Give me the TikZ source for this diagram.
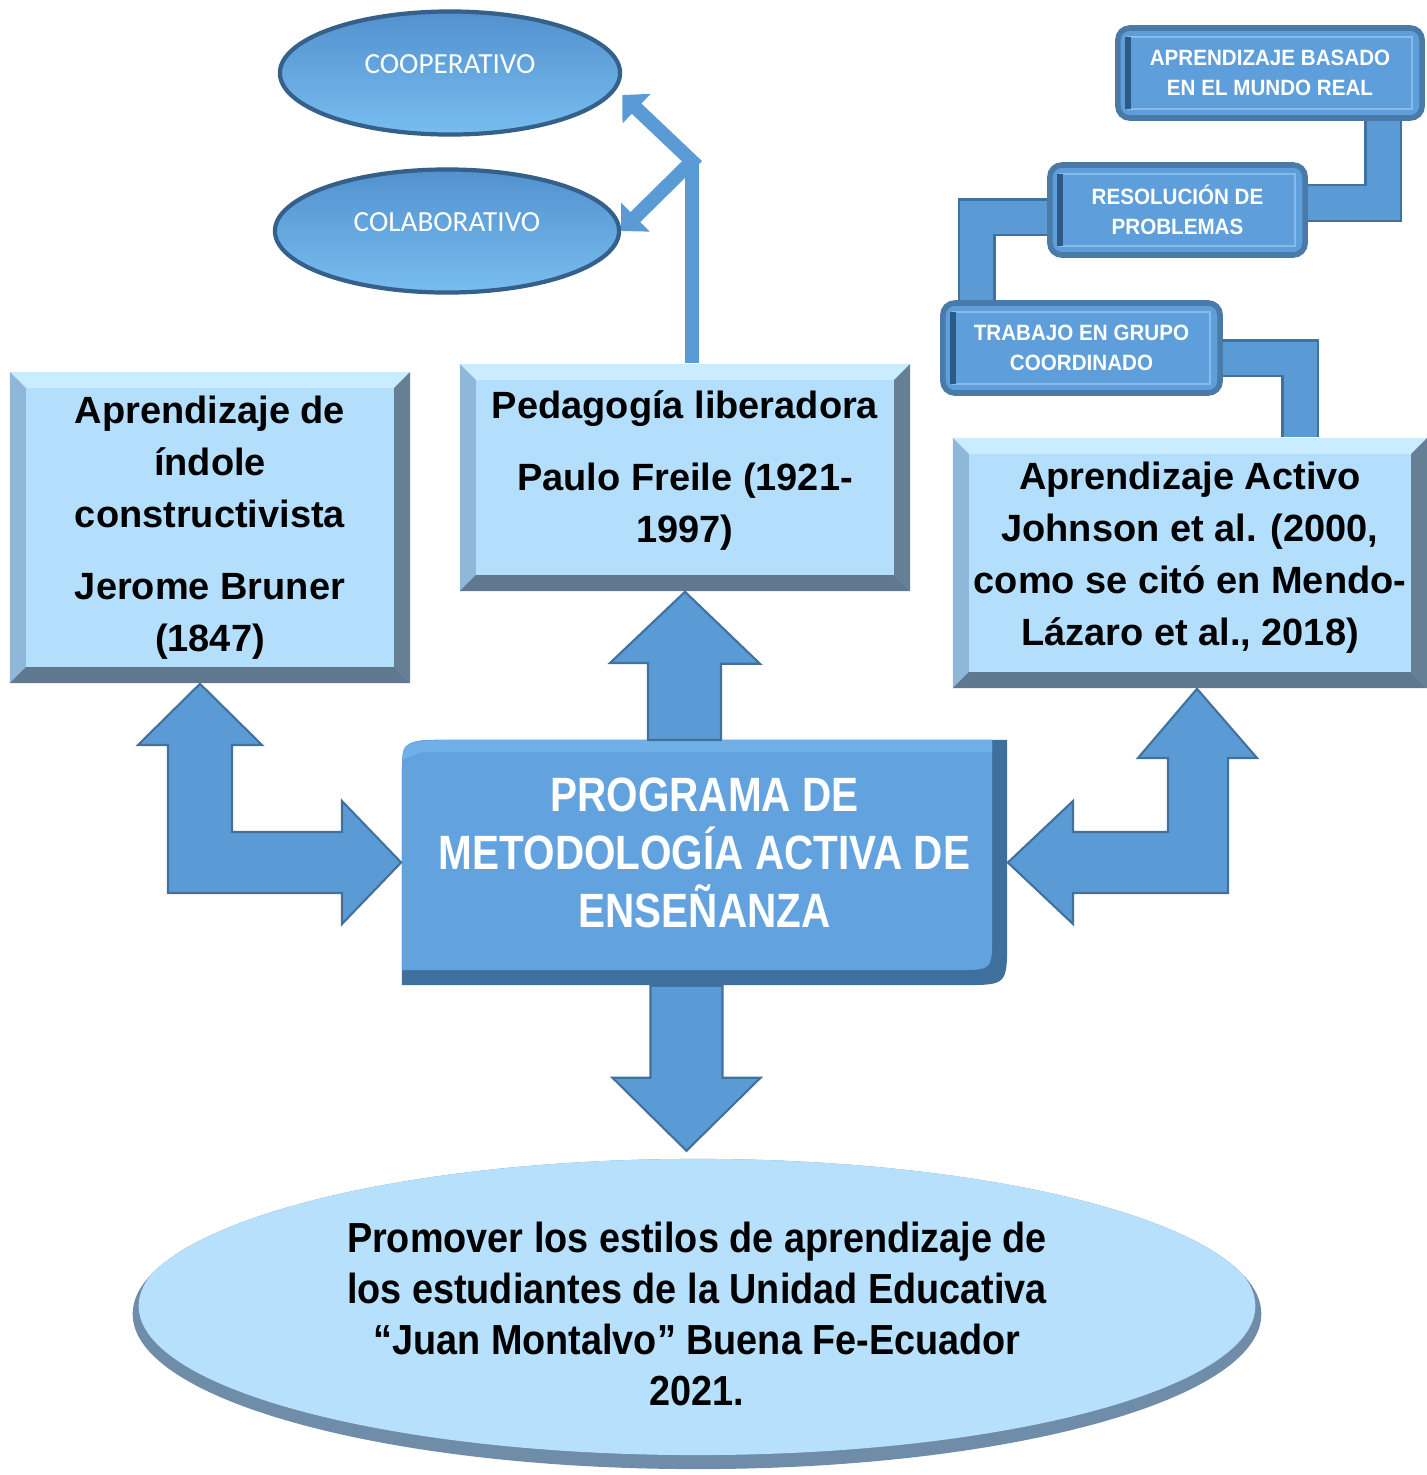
\documentclass[tikz,border=0pt]{standalone}
\usepackage{fontspec}
\setmainfont{Liberation Sans}
\newfontfamily\narrowfont{Liberation Sans}[FakeStretch=0.84]
\newfontfamily\goalfont{Liberation Sans}[FakeStretch=0.9]
\newfontfamily\notefont{Liberation Sans}[FakeStretch=0.93]
\newfontfamily\calibfont{Carlito}
\usetikzlibrary{arrows.meta,shapes.geometric}

\definecolor{boxface}{HTML}{B4DFFC}
\definecolor{bevtop}{HTML}{C9ECFE}
\definecolor{bevleft}{HTML}{8FB7DA}
\definecolor{bevright}{HTML}{667F95}
\definecolor{bevbottom}{HTML}{5F7890}
\definecolor{arrowblue}{HTML}{5B9BD5}
\definecolor{arrowedge}{HTML}{41719C}
\definecolor{progface}{HTML}{62A3DF}
\definecolor{progdark}{HTML}{3F6F9D}
\definecolor{proglight}{HTML}{6FB0E8}
\definecolor{noteface}{HTML}{5E9EDA}
\definecolor{noteedge}{HTML}{4A7AA8}
\definecolor{noteline}{HTML}{86BBEA}
\definecolor{notedark}{HTML}{2C5A86}
\definecolor{ellA}{HTML}{5291CE}
\definecolor{ellB}{HTML}{78BDF0}
\definecolor{elledge}{HTML}{34608A}
\definecolor{goalface}{HTML}{B6E0FB}
\definecolor{goalrim}{HTML}{6F8CA8}

\newcommand{\bevw}{0.16cm}

\tikzset{
  bevelbox/.style={fill=boxface, inner sep=0pt, align=center,
    font=\bfseries\fontsize{10.8pt}{14.8pt}\selectfont,
    path picture={
      \coordinate (bnw) at (path picture bounding box.north west);
      \coordinate (bne) at (path picture bounding box.north east);
      \coordinate (bsw) at (path picture bounding box.south west);
      \coordinate (bse) at (path picture bounding box.south east);
      \fill[bevtop] (bnw) -- (bne) -- ([xshift=-\bevw,yshift=-\bevw]bne) -- ([xshift=\bevw,yshift=-\bevw]bnw) -- cycle;
      \fill[bevleft] (bnw) -- (bsw) -- ([xshift=\bevw,yshift=\bevw]bsw) -- ([xshift=\bevw,yshift=-\bevw]bnw) -- cycle;
      \fill[bevright] (bne) -- (bse) -- ([xshift=-\bevw,yshift=\bevw]bse) -- ([xshift=-\bevw,yshift=-\bevw]bne) -- cycle;
      \fill[bevbottom] (bsw) -- (bse) -- ([xshift=-\bevw,yshift=\bevw]bse) -- ([xshift=\bevw,yshift=\bevw]bsw) -- cycle;
    }},
  progbox/.style={inner sep=0pt, align=center, text=white, text depth=0.2cm,
    font=\narrowfont\bfseries\fontsize{13.7pt}{16.5pt}\selectfont,
    path picture={
      \coordinate (pnw) at (path picture bounding box.north west);
      \coordinate (pne) at (path picture bounding box.north east);
      \coordinate (psw) at (path picture bounding box.south west);
      \coordinate (pse) at (path picture bounding box.south east);
      \fill[progdark] ([yshift=-0.45cm]pnw) .. controls (pnw) .. ([xshift=0.45cm]pnw) -- (pne)
        -- ([yshift=0.45cm]pse) .. controls (pse) .. ([xshift=-0.45cm]pse) -- (psw) -- cycle;
      \fill[progface] ([yshift=-0.45cm]pnw) .. controls (pnw) .. ([xshift=0.45cm]pnw) -- ([xshift=-0.15cm]pne)
        -- ([xshift=-0.15cm,yshift=0.5cm]pse) .. controls ([xshift=-0.15cm,yshift=0.15cm]pse) .. ([xshift=-0.5cm,yshift=0.15cm]pse)
        -- ([yshift=0.15cm]psw) -- cycle;
      \fill[proglight] ([yshift=-0.2cm]pnw) .. controls ([xshift=0.02cm,yshift=-0.02cm]pnw) .. ([xshift=0.45cm]pnw)
        -- ([xshift=-0.15cm]pne) -- ([xshift=-0.15cm,yshift=-0.12cm]pne) -- ([xshift=0.2cm,yshift=-0.12cm]pnw) -- cycle;
    }},
  notebox/.style={rounded corners=0.12cm, fill=noteface, draw=noteedge, line width=1.6pt,
    inner sep=0pt, minimum height=0.9cm, align=center, text=white,
    font=\notefont\bfseries\fontsize{6.3pt}{8.5pt}\selectfont,
    path picture={
      \draw[sharp corners, noteline, line width=0.6pt] ([xshift=0.1cm,yshift=-0.09cm]path picture bounding box.north west)
        rectangle ([xshift=-0.1cm,yshift=0.09cm]path picture bounding box.south east);
      \draw[sharp corners, notedark, line width=1.5pt] ([xshift=0.1cm,yshift=-0.09cm]path picture bounding box.north west)
        -- ([xshift=0.1cm,yshift=0.09cm]path picture bounding box.south west);
    }},
  ovalbox/.style={ellipse, inner sep=0pt, top color=ellA, bottom color=ellB, draw=elledge, line width=1.2pt,
    text=white, text height=0.2cm, text depth=0.2cm, font=\calibfont\fontsize{8.3pt}{10pt}\selectfont},
  goalbox/.style={ellipse, inner sep=0pt, fill=goalrim, align=center,
    font=\goalfont\bfseries\fontsize{11.95pt}{14.5pt}\selectfont,
    path picture={
      \fill[goalface] ([yshift=0.08cm]path picture bounding box.center) ellipse [x radius=5.58cm, y radius=1.49cm];
    }},
  blockarrow/.style={fill=arrowblue, draw=arrowedge, line width=0.6pt},
  band/.style={double=arrowblue, double distance=0.33cm, draw=arrowedge, line width=0.7pt},
  forkline/.style={draw=arrowblue, line width=0.14cm}
}

\begin{document}
\begin{tikzpicture}[x=0.01cm,y=-0.01cm]
  \useasboundingbox (0,0) rectangle (1427,1475);
  %ovals
  \node[ovalbox, minimum width=3.4cm, minimum height=1.23cm] (coop) at (450,73) {COOPERATIVO};
  \node[ovalbox, minimum width=3.44cm, minimum height=1.23cm] (colab) at (447,231) {COLABORATIVO};
  %boxes
  \node[bevelbox, minimum width=4cm, minimum height=3.11cm, text depth=0.07cm] (con) at (210,527.5)
    {Aprendizaje de\\índole\\constructivista\\[0.2cm]Jerome Bruner\\(1847)};
  \node[bevelbox, minimum width=4.5cm, minimum height=2.27cm, text depth=0.22cm] (ped) at (685,477.5)
    {Pedagogía liberadora\\[0.2cm]Paulo Freile (1921-\\1997)};
  \node[bevelbox, minimum width=4.74cm, minimum height=2.5cm, text depth=0.18cm] (act) at (1190,563)
    {Aprendizaje Activo\\Johnson et al. (2000,\\como se citó en Mendo-\\Lázaro et al., 2018)};
  \node[progbox, minimum width=6.05cm, minimum height=2.45cm] (prog) at (704.5,862.5)
    {PROGRAMA DE\\METODOLOGÍA ACTIVA DE\\ENSEÑANZA};
  \node[goalbox, minimum width=11.28cm, minimum height=3.1cm] (goal) at (697,1314)
    {Promover los estilos de aprendizaje de\\los estudiantes de la Unidad Educativa\\“Juan Montalvo” Buena Fe-Ecuador\\2021.};
  %steps
  \node[notebox, minimum width=3.04cm] (mundo) at (1270,73) {APRENDIZAJE BASADO\\EN EL MUNDO REAL};
  \node[notebox, minimum width=2.55cm] (resol) at (1177.5,210) {RESOLUCIÓN DE\\PROBLEMAS};
  \node[notebox, minimum width=2.77cm] (grupo) at (1081.5,348) {TRABAJO EN GRUPO\\COORDINADO};
  \draw[band] ([xshift=1.13cm]mundo.south) |- ([yshift=0.07cm]resol.east);
  \draw[band] ([yshift=-0.07cm]resol.west) -| ([xshift=-1.045cm]grupo.north);
  \draw[band] ([yshift=-0.1cm]grupo.east) -| ([xshift=1.1cm]act.north);
  %fork
  \draw[forkline] ([xshift=0.07cm]ped.north) -- ++(0,-202) coordinate (fork);
  \draw[forkline, {Triangle[angle=90:0.28cm]}-{Triangle[angle=90:0.28cm]}]
    (colab.east) -- (fork) -- ([yshift=-0.22cm]coop.east);
  %block arrows
  \draw[blockarrow] (ped.south) -- ++(75,72) -- ++(-39,0) -- (721,740) -- (648,740) -- (648,663) -- ++(-38,0) -- cycle;
  \draw[blockarrow] ([xshift=-0.18cm]prog.south) ++(-36,0) -- ++(0,92) -- ++(-38,0) -- ++(74,73)
    -- ++(74,-73) -- ++(-38,0) -- ++(0,-92) -- cycle;
  \draw[blockarrow] ([xshift=-0.1cm]con.south) -- (262,745) -- (232,745) -- (232,832) -- (342,832) -- (342,801)
    -- (prog.west) -- (342,924) -- (342,893) -- (168,893) -- (168,745) -- (138,745) -- cycle;
  \draw[blockarrow] ([xshift=0.07cm]act.south) -- (1257,758) -- (1228,758) -- (1228,893) -- (1073,893) -- (1073,924)
    -- (prog.east) -- (1073,801) -- (1073,832) -- (1168,832) -- (1168,758) -- (1138,758) -- cycle;
\end{tikzpicture}
\end{document}
